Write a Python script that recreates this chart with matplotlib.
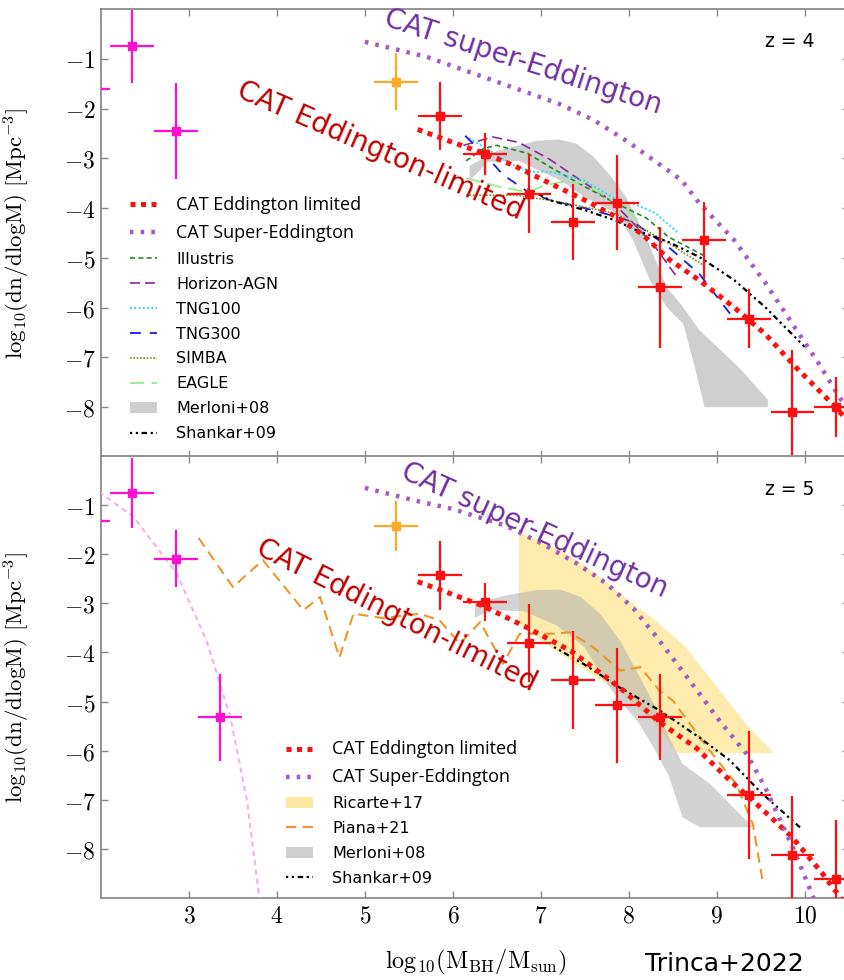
import numpy as np
import matplotlib.pyplot as plt
from matplotlib.lines import Line2D
from matplotlib.patches import Patch

plt.rcParams['mathtext.fontset'] = 'cm'
plt.rcParams['font.family'] = ['DejaVu Sans']

## ================================================================================================
## DATA
## ================================================================================================

x_ticks = [3, 4, 5, 6, 7, 8, 9, 10]
x_tick_labels = ["$3$", "$4$", "$5$", "$6$", "$7$", "$8$", "$9$", "$10$"]
y_ticks = [-1, -2, -3, -4, -5, -6, -7, -8]
y_tick_labels = ["$-1$", "$-2$", "$-3$", "$-4$", "$-5$", "$-6$", "$-7$", "$-8$"]

# ---- z = 4 ----
obs_red_x4 = [5.85, 6.36, 6.86, 7.36, 7.86, 8.35, 8.85, 9.36, 9.86, 10.36]
obs_red_y4 = [-2.15, -2.92, -3.71, -4.28, -3.89, -5.59, -4.65, -6.22, -8.10, -8.0]
obs_red_e4 = [0.69, 0.42, 0.80, 0.77, 0.95, 1.22, 0.77, 0.59, 1.24, 0.60]
obs_mag_x4 = [1.85, 2.35, 2.85]
obs_mag_y4 = [-1.60, -0.75, -2.45]
obs_mag_e4 = [0.70, 0.73, 0.97]
obs_ora_x4 = [5.35]
obs_ora_y4 = [-1.46]
obs_ora_e4 = [0.57]

edd_x4 = [5.6, 6.0, 6.35, 6.7, 7.1, 7.5, 7.85, 8.15, 8.45, 8.8, 9.2, 9.55, 9.9, 10.35, 10.5]
edd_y4 = [-2.42, -2.68, -2.9, -3.15, -3.5, -3.84, -4.17, -4.52, -5.02, -5.45, -6.0, -6.53, -7.2, -8.0, -8.3]
sup_x4 = [5.0, 5.7, 6.45, 7.2, 7.6, 8.0, 8.6, 8.8, 9.2, 9.55, 9.85, 10.15, 10.5]
sup_y4 = [-0.66, -0.96, -1.43, -1.9, -2.23, -2.68, -3.44, -3.9, -4.65, -5.5, -6.3, -7.1, -8.1]

illustris_x = [6.15, 6.35, 6.5, 6.85, 7.1, 7.5, 7.85, 8.2, 8.45, 8.85]
illustris_y = [-3.05, -2.8, -2.74, -2.9, -3.17, -3.57, -3.9, -4.2, -4.58, -4.95]
horizon_x = [6.12, 6.45, 6.75, 7.1, 7.5, 7.8, 8.05, 8.3, 8.56]
horizon_y = [-2.74, -2.57, -2.68, -3.02, -3.5, -3.85, -4.3, -4.78, -5.42]
tng100_x = [6.14, 6.35, 6.7, 6.9, 7.1, 7.5, 7.85, 8.05, 8.3, 8.55]
tng100_y = [-2.55, -2.77, -3.15, -3.27, -3.27, -3.45, -3.82, -3.91, -4.1, -4.48]
tng300_x = [6.14, 6.35, 6.57, 6.85, 7.1, 7.5, 7.85, 8.05, 8.45, 8.8, 9.15]
tng300_y = [-2.55, -2.9, -3.33, -3.67, -3.84, -4.0, -4.17, -4.28, -4.78, -5.32, -6.12]
simba_x = [6.15, 6.7, 7.1, 7.5, 7.85, 8.05, 8.45, 8.85]
simba_y = [-3.74, -3.74, -3.84, -3.98, -4.11, -4.3, -4.7, -5.15]
eagle_x = [6.15, 6.5, 6.85, 7.05, 7.25, 7.5, 7.75, 7.95, 8.1]
eagle_y = [-3.4, -3.56, -3.68, -3.54, -3.47, -3.5, -3.78, -4.0, -4.25]
shankar_x4 = [6.85, 7.1, 7.5, 7.85, 8.05, 8.45, 8.8, 9.2, 9.55, 10.0]
shankar_y4 = [-3.6, -3.84, -4.04, -4.25, -4.42, -4.68, -4.98, -5.45, -5.99, -6.79]

merloni_up_x4 = [6.19, 6.5, 6.95, 7.2, 7.4, 7.6, 7.8, 7.97, 8.2, 8.43, 8.6, 8.8, 9.25, 9.58, 9.58]
merloni_up_y4 = [-3.15, -2.85, -2.65, -2.62, -2.7, -2.97, -3.37, -3.78, -4.6, -5.59, -5.95, -6.45, -7.2, -7.85, -8.0]
merloni_lo_x4 = [8.86, 8.75, 8.62, 8.43, 8.24, 8.05, 7.86, 7.5, 7.22, 6.95, 6.75, 6.4, 6.19]
merloni_lo_y4 = [-8.0, -7.2, -6.33, -5.99, -5.45, -4.65, -4.1, -3.78, -3.44, -3.22, -3.05, -3.07, -3.45]

# ---- z = 5 ----
obs_red_x5 = [5.85, 6.36, 6.86, 7.36, 7.86, 8.35, 9.36, 9.86, 10.36]
obs_red_y5 = [-2.43, -2.97, -3.81, -4.56, -5.08, -5.32, -6.9, -8.12, -8.62]
obs_red_e5 = [0.70, 0.38, 0.80, 1.00, 1.17, 0.88, 1.31, 1.20, 1.20]
obs_mag_x5 = [1.85, 2.35, 2.85, 3.35]
obs_mag_y5 = [-1.33, -0.75, -2.09, -5.32]
obs_mag_e5 = [0.70, 0.71, 0.58, 0.89]
obs_ora_x5 = [5.35]
obs_ora_y5 = [-1.43]
obs_ora_e5 = [0.51]

edd_x5 = [5.6, 5.85, 6.35, 6.85, 7.35, 7.9, 8.35, 8.77, 9.15, 9.4, 9.86, 10.2, 10.45]
edd_y5 = [-2.56, -2.72, -3.06, -3.5, -3.98, -4.72, -5.42, -5.95, -6.61, -7.0, -7.77, -8.5, -9.1]
sup_x5 = [5.0, 5.6, 6.0, 6.6, 7.0, 7.4, 7.75, 8.05, 8.3, 8.66, 9.03, 9.34, 9.55, 9.87, 10.1]
sup_y5 = [-0.65, -0.92, -1.08, -1.42, -1.77, -2.18, -2.6, -3.1, -3.65, -4.5, -5.39, -6.07, -6.75, -8.0, -9.0]

piana_x = [3.11, 3.5, 3.84, 4.3, 4.49, 4.71, 4.87, 5.2, 5.62, 5.85, 6.08, 6.31, 6.57, 6.76,
           7.14, 7.33, 7.6, 7.9, 8.13, 8.35, 8.5, 8.92, 9.22, 9.41, 9.52]
piana_y = [-1.67, -2.67, -2.12, -3.14, -2.87, -4.1, -3.21, -3.3, -3.21, -3.35, -3.82, -3.38, -4.23, -3.62,
           -3.62, -3.59, -3.9, -4.37, -4.3, -4.78, -4.98, -6.0, -6.68, -7.5, -8.65]
pink_x = [1.9, 2.0, 2.37, 2.86, 3.2, 3.47, 3.66, 3.8]
pink_y = [-0.6, -0.76, -1.24, -2.39, -3.76, -5.32, -7.02, -9.0]
shankar_x5 = [7.15, 7.5, 7.9, 8.35, 8.8, 9.15, 9.5, 9.95]
shankar_y5 = [-3.89, -4.25, -4.72, -5.18, -5.73, -6.2, -6.85, -7.57]

ricarte_up_x = [6.75, 7.15, 7.5, 7.9, 8.3, 8.65, 9.0, 9.35, 9.65]
ricarte_up_y = [-1.55, -1.85, -2.22, -2.8, -3.35, -3.9, -4.7, -5.5, -6.05]
ricarte_lo_x = [9.65, 8.55, 8.25, 7.9, 7.5, 7.15, 6.75]
ricarte_lo_y = [-6.05, -6.05, -5.35, -4.82, -4.35, -3.95, -3.4]

merloni_up_x5 = [6.25, 6.6, 6.95, 7.22, 7.45, 7.67, 7.9, 8.05, 8.27, 8.45, 8.61, 8.92, 9.41]
merloni_up_y5 = [-3.0, -2.84, -2.73, -2.72, -2.87, -3.21, -3.76, -4.25, -5.0, -5.7, -6.27, -6.67, -7.56]
merloni_lo_x5 = [8.81, 8.61, 8.45, 8.27, 8.1, 7.9, 7.7, 7.5, 7.18, 6.8, 6.42, 6.25]
merloni_lo_y5 = [-7.56, -7.36, -6.5, -5.9, -5.4, -5.0, -4.5, -3.9, -3.45, -3.16, -3.14, -3.3]

## ================================================================================================
## STYLES
## ================================================================================================
c_red = "#ff1010"
c_mag = "#ff10d0"
c_ora = "#ffaa22"
c_sup = "#a45cc4"
c_gray = "#cfcfcf"
c_yel = "#fde9a0"
edd_style = dict(color=c_red, lw=3.6, ls=(0, (1, 1.1)))
sup_style = dict(color=c_sup, lw=3.2, ls=(0, (0.8, 1.6)))
sha_style = dict(color="black", lw=1.6, ls=(0, (1, 1.6, 1, 1.6, 2.5, 1.6)))
spine_col = "#8a8a8a"

## ================================================================================================
## FUNCTIONS
## ================================================================================================

def points(ax, x, y, e, color):
	ax.errorbar(x, y, xerr=0.25, yerr=e, fmt="s", color=color, ms=6, lw=1.6,
		capsize=0, zorder=8, clip_on=True)


def style_axes(ax, show_x):
	ax.set_xlim(2, 10.5)
	ax.set_ylim(-9, 0)
	ax.set_xticks(x_ticks)
	ax.set_yticks(y_ticks, labels=y_tick_labels)
	if show_x:
		ax.set_xticklabels(x_tick_labels)
	else:
		ax.set_xticklabels([])
	ax.tick_params(direction="in", top=True, right=True, length=5, width=1,
		color=spine_col, labelsize=17, pad=4)
	for s in ax.spines.values():
		s.set_color(spine_col)
		s.set_linewidth(1.3)
	ax.set_ylabel(r"$\mathrm{log_{10}(dn/dlogM)\ [Mpc^{-3}]}$", fontsize=16.5)
	ax.yaxis.set_label_coords(-0.092, 0.5)


def cat_labels(ax, sup_xy, sup_rot, edd_xy, edd_rot):
	ax.text(*sup_xy, "CAT super-Eddington", color="#7030a0", fontsize=20,
		rotation=sup_rot, ha="center", va="center", rotation_mode="anchor", zorder=9)
	ax.text(*edd_xy, "CAT Eddington-limited", color="#c00000", fontsize=20,
		rotation=edd_rot, ha="center", va="center", rotation_mode="anchor", zorder=9)


def make_legend(ax, handles, labels, anchor):
	leg = ax.legend(handles, labels, loc="center left", bbox_to_anchor=anchor,
		frameon=False, fontsize=11.5, handlelength=1.7, handletextpad=1.2,
		labelspacing=0.62, borderpad=0, borderaxespad=0)
	for t in leg.get_texts()[:2]:
		t.set_fontfamily("Open Sans")
		t.set_fontsize(13)
	return leg

## ================================================================================================
## SCRIPT
## ================================================================================================

fig = plt.figure(figsize=(8.45, 9.8), dpi=100)
ax4 = fig.add_axes([0.1195, 0.5337, 0.885, 0.4571])
ax5 = fig.add_axes([0.1195, 0.0837, 0.885, 0.4510])

# ---- z = 4 panel ----
ax4.fill(merloni_up_x4 + merloni_lo_x4, merloni_up_y4 + merloni_lo_y4, color=c_gray, lw=0, zorder=1)
ax4.plot(edd_x4, edd_y4, zorder=5, **edd_style)
ax4.plot(sup_x4, sup_y4, zorder=5, **sup_style)
ax4.plot(illustris_x, illustris_y, color="#228b22", lw=1.2, ls=(0, (3, 2)), zorder=4)
ax4.plot(horizon_x, horizon_y, color="#8b2a9b", lw=1.2, ls=(0, (6, 3)), zorder=4)
ax4.plot(tng100_x, tng100_y, color="#22e0f0", lw=1.4, ls=(0, (1, 1.2)), zorder=4)
ax4.plot(tng300_x, tng300_y, color="#1a1ae0", lw=1.3, ls=(0, (6, 5)), zorder=4)
ax4.plot(simba_x, simba_y, color="#8a8a10", lw=1.2, ls=(0, (1, 1)), zorder=4)
ax4.plot(eagle_x, eagle_y, color="#90ee90", lw=1.3, ls=(0, (8, 4)), zorder=4)
ax4.plot(shankar_x4, shankar_y4, zorder=4, **sha_style)
points(ax4, obs_mag_x4, obs_mag_y4, obs_mag_e4, c_mag)
points(ax4, obs_ora_x4, obs_ora_y4, obs_ora_e4, c_ora)
points(ax4, obs_red_x4, obs_red_y4, obs_red_e4, c_red)
style_axes(ax4, False)
cat_labels(ax4, (6.80, -1.07), -17.8, (5.18, -2.84), -23.5)
ax4.text(9.83, -0.66, "z = 4", fontsize=13.5, ha="center", va="center")

handles4 = [Line2D([], [], **edd_style), Line2D([], [], **sup_style),
	Line2D([], [], color="#228b22", lw=1.2, ls=(0, (3, 2))),
	Line2D([], [], color="#8b2a9b", lw=1.2, ls=(0, (6, 3))),
	Line2D([], [], color="#22e0f0", lw=1.4, ls=(0, (1, 1.2))),
	Line2D([], [], color="#1a1ae0", lw=1.3, ls=(0, (6, 5))),
	Line2D([], [], color="#8a8a10", lw=1.2, ls=(0, (1, 1))),
	Line2D([], [], color="#90ee90", lw=1.3, ls=(0, (8, 4))),
	Patch(color=c_gray, lw=0), Line2D([], [], **sha_style)]
labels4 = ["CAT Eddington limited", "CAT Super-Eddington", "Illustris", "Horizon-AGN",
	"TNG100", "TNG300", "SIMBA", "EAGLE", "Merloni+08", "Shankar+09"]
make_legend(ax4, handles4, labels4, (0.039, 0.309))

# ---- z = 5 panel ----
ax5.fill(ricarte_up_x + ricarte_lo_x, ricarte_up_y + ricarte_lo_y, color=c_yel, alpha=0.85, lw=0, zorder=1)
ax5.fill(merloni_up_x5 + merloni_lo_x5, merloni_up_y5 + merloni_lo_y5, color="#b0b0b0", alpha=0.55, lw=0, zorder=2)
ax5.plot(edd_x5, edd_y5, zorder=5, **edd_style)
ax5.plot(sup_x5, sup_y5, zorder=5, **sup_style)
ax5.plot(piana_x, piana_y, color="#f0952a", lw=1.5, ls=(0, (5, 3)), zorder=4)
ax5.plot(pink_x, pink_y, color="#f5b0f0", lw=1.5, ls=(0, (2.5, 2)), zorder=4)
ax5.plot(shankar_x5, shankar_y5, zorder=4, **sha_style)
points(ax5, obs_mag_x5, obs_mag_y5, obs_mag_e5, c_mag)
points(ax5, obs_ora_x5, obs_ora_y5, obs_ora_e5, c_ora)
points(ax5, obs_red_x5, obs_red_y5, obs_red_e5, c_red)
style_axes(ax5, True)
cat_labels(ax5, (6.93, -1.51), -24.5, (5.36, -3.24), -26.5)
ax5.text(9.83, -0.69, "z = 5", fontsize=13.5, ha="center", va="center")
ax5.set_xlabel(r"$\mathrm{log_{10}(M_{BH}/M_{sun})}$", fontsize=17.5)
ax5.xaxis.set_label_coords(0.501, -0.112)

handles5 = [Line2D([], [], **edd_style), Line2D([], [], **sup_style),
	Patch(color=c_yel, lw=0), Line2D([], [], color="#f0952a", lw=1.5, ls=(0, (5, 3))),
	Patch(color=c_gray, lw=0), Line2D([], [], **sha_style)]
labels5 = ["CAT Eddington limited", "CAT Super-Eddington", "Ricarte+17", "Piana+21",
	"Merloni+08", "Shankar+09"]
make_legend(ax5, handles5, labels5, (0.247, 0.192))

fig.text(0.857, 0.016, "Trinca+2022", fontsize=18, ha="center", va="center")

fig.savefig("out.png", dpi=100)
